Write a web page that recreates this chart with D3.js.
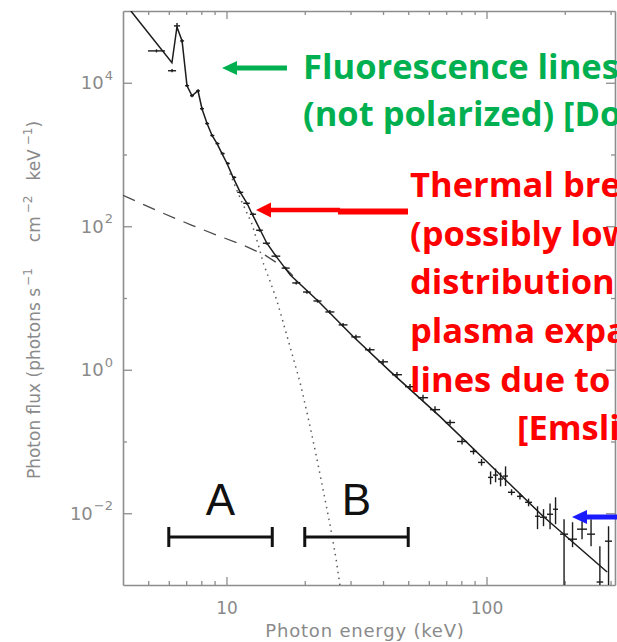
<!DOCTYPE html>
<html><head><meta charset="utf-8">
<script src="https://cdn.jsdelivr.net/npm/d3@7"></script>
<style>
html,body{margin:0;padding:0;background:#fff;overflow:hidden}
svg{display:block}
</style></head><body>
<svg id="chart" width="617" height="642"></svg>
<script>
// ---------- data ----------
// total model (solid)
const modelEnergy = [4.29,6.17,6.45,6.75,7.05,7.37,7.77,8.05,8.42,8.80,9.20,9.61,10.05,10.6,11.3,12.0,12.5,13.5,14.3,15.6,16.8,17.6,22.5,30.7,42.6,66.3,106,165,291];
const modelFlux   = [1.0e5,1.9e4,6.0e4,3.83e4,9090,6590,7740,4350,2700,1840,1420,1030,750,480,297,209,152,88,58,37.1,26.1,20.9,9.09,2.9,0.95,0.222,0.043,0.00908,0.00152];
// non-thermal broken power law (dashed)
const nonThermalEnergy = [4,5.70,7.37,9.20,11.6,14.07,16.8,19.2];
const nonThermalFlux   = [270,152,103,75,54.5,39.6,26.1,16.2];
// thermal component (dotted)
const thermalEnergy = [10.3,11.3,12.5,13.2,13.9,14.7,15.6,16.5,18.0,19.2,20.4,21.9,23.3,25.0,26.4,27.3];
const thermalFlux   = [545,245,110,58,29.6,17.2,9.38,4.64,1.52,0.659,0.253,0.0774,0.0253,0.00703,0.0023,0.001];
// observed spectrum: energy bins and flux with errors
const binLow   = [4.99,5.96,6.28,6.63,6.93,7.24,7.64,7.91,8.28,8.66,9.07,9.50,9.95,10.5,11.0,11.6,12.3,13.0,13.8,14.9,16.3,17.9,19.7,21.6,24.0,27.0,30.2,34.1,38.3,43.3,48.6,54.5,60.6,69.3,77.0,86.4,92.8,101.4,106.0,110.8,115.8,121.0,131.0,140.7,153.7,160.6,170.9,180.3,191.8,205.9,222.9,243.6,265,285.6];
const binHigh  = [5.80,6.40,6.63,6.87,7.18,7.50,7.91,8.19,8.58,8.98,9.40,9.84,10.3,10.9,11.6,12.3,13.0,13.8,14.7,16.1,17.5,19.2,21.1,23.2,26.0,29.2,32.8,37.1,41.8,47.3,53.1,59.6,66.3,75.7,84.2,91.9,98.7,106.0,110.8,115.8,121.0,128.8,138.0,149.7,160.6,170.9,180.3,188.4,205.9,222.9,243.6,261.5,281,304];
const flux     = [27800,14700,62000,38300,9100,6600,7700,4350,2700,1840,1420,1030,750,480,297,209,147,88,58,38.3,26.1,16.2,12.1,9.09,6.39,4.22,2.87,1.90,1.29,0.853,0.581,0.408,0.278,0.184,0.100,0.0726,0.0511,0.0316,0.0340,0.0300,0.0330,0.0196,0.0172,0.0142,0.00908,0.0088,0.00968,0.01137,0.00511,0.00435,0.0060,0.00511,0.00110,0.00408];
const fluxLow  = [26500,14000,56000,36000,8700,6300,7400,4150,2580,1760,1360,985,718,459,284,200,141,84,55.5,36.6,24.9,15.4,11.5,8.6,6.0,3.95,2.68,1.76,1.19,0.78,0.53,0.37,0.25,0.168,0.091,0.066,0.046,0.0253,0.0270,0.0237,0.0240,0.0178,0.0155,0.0125,0.0060,0.0066,0.0060,0.00703,0.0008,0.00337,0.00435,0.00348,0.0008,0.0008];
const fluxHigh = [29200,15500,68000,40500,9500,6900,8100,4550,2820,1920,1480,1075,783,501,310,218,154,92,60.5,40.0,27.3,17.0,12.7,9.6,6.8,4.5,3.07,2.04,1.40,0.93,0.635,0.45,0.31,0.201,0.110,0.080,0.057,0.0383,0.0420,0.0370,0.0450,0.0216,0.0190,0.0160,0.0125,0.0114,0.0137,0.0167,0.00826,0.0075,0.00774,0.00826,0.00348,0.00659];
// axis ticks
const xMajorTicks = [10,100];
const xMinorTicks = [5,6,7,8,9,20,30,40,50,60,70,80,90,200,300];
const yMajorTicks = [1e-2,1,1e2,1e4];
const yMinorTicks = [1e-1,10,1e3];
// energy ranges A and B
const bandLabels = ["A","B"];
const bandLow  = [6,20];
const bandHigh = [15,50];
// overlaid annotation text
const greenLines = ["Fluorescence lines","(not polarized) [Do"];
const redLines = ["Thermal bre","(possibly low","distribution","plasma expa","lines due to"];
const redLastLine = "[Emsli";

// ---------- layout ----------
const svg = d3.select("#chart");
const P = {left:123,right:615,top:11,bottom:585};
const x = d3.scaleLog().domain([4,312]).range([P.left,P.right]);
const y = d3.scaleLog().domain([1e-3,1e5]).range([P.bottom,P.top]);
const axisColor = "#8d8d8d";
const labelColor = "#8a8a8a";
const ink = "#1c1c1c";

svg.append("defs").append("clipPath").attr("id","plotclip")
  .append("rect").attr("x",P.left).attr("y",P.top).attr("width",P.right-P.left).attr("height",P.bottom-P.top);

function styleAxis(g, showDomain){
  g.attr("font-family","DejaVu Sans").attr("font-size",17);
  g.select(".domain").attr("stroke", showDomain?axisColor:"none").attr("stroke-width",1.6);
  g.selectAll(".tick line").attr("stroke",axisColor).attr("stroke-width",1.3);
  g.selectAll(".tick text").attr("fill",labelColor);
}

// bottom
svg.append("g").attr("transform",`translate(0,${P.bottom})`)
  .call(d3.axisBottom(x).tickValues(xMajorTicks).tickSizeInner(-8).tickSizeOuter(0).tickPadding(17).tickFormat(d=>String(d)))
  .call(g=>styleAxis(g,true));
svg.append("g").attr("transform",`translate(0,${P.bottom})`)
  .call(d3.axisBottom(x).tickValues(xMinorTicks).tickSizeInner(-4).tickSizeOuter(0).tickFormat(""))
  .call(g=>styleAxis(g,false));
// top
svg.append("g").attr("transform",`translate(0,${P.top})`)
  .call(d3.axisTop(x).tickValues(xMajorTicks).tickSizeInner(-8).tickSizeOuter(0).tickFormat(""))
  .call(g=>styleAxis(g,true));
svg.append("g").attr("transform",`translate(0,${P.top})`)
  .call(d3.axisTop(x).tickValues(xMinorTicks).tickSizeInner(-4).tickSizeOuter(0).tickFormat(""))
  .call(g=>styleAxis(g,false));
// left
const gl = svg.append("g").attr("transform",`translate(${P.left},0)`)
  .call(d3.axisLeft(y).tickValues(yMajorTicks).tickSizeInner(-9).tickSizeOuter(0).tickPadding(10).tickFormat(d=>String(d)))
  .call(g=>styleAxis(g,true));
gl.selectAll(".tick text").attr("font-size",18).each(function(d){
  const e = Math.round(Math.log10(d));
  const t = d3.select(this).text(null);
  t.append("tspan").text("10");
  t.append("tspan").attr("font-size",13).attr("dy","-0.7em").attr("dx",1).text(e<0?"\u2212"+(-e):String(e));
});
svg.append("g").attr("transform",`translate(${P.left},0)`)
  .call(d3.axisLeft(y).tickValues(yMinorTicks).tickSizeInner(-4).tickSizeOuter(0).tickFormat(""))
  .call(g=>styleAxis(g,false));
// right
svg.append("g").attr("transform",`translate(${P.right},0)`)
  .call(d3.axisRight(y).tickValues(yMajorTicks).tickSizeInner(-9).tickSizeOuter(0).tickFormat(""))
  .call(g=>styleAxis(g,true));
svg.append("g").attr("transform",`translate(${P.right},0)`)
  .call(d3.axisRight(y).tickValues(yMinorTicks).tickSizeInner(-4).tickSizeOuter(0).tickFormat(""))
  .call(g=>styleAxis(g,false));

// axis titles
svg.append("text").attr("x",365).attr("y",637).attr("text-anchor","middle")
  .attr("font-family","DejaVu Sans").attr("font-size",18).attr("letter-spacing",0.8)
  .attr("fill",labelColor).text("Photon energy (keV)");
const yt = svg.append("text").attr("transform","translate(40,300) rotate(-90)").attr("text-anchor","middle")
  .attr("font-family","DejaVu Sans").attr("font-size",17).attr("fill",labelColor);
yt.append("tspan").text("Photon flux (photons s");
yt.append("tspan").attr("font-size",12).attr("dx",2).attr("dy",-8).text("\u22121");
yt.append("tspan").attr("dx",26).attr("dy",8).text("cm");
yt.append("tspan").attr("font-size",12).attr("dx",3).attr("dy",-8).text("\u22122");
yt.append("tspan").attr("dx",15).attr("dy",8).text("keV");
yt.append("tspan").attr("font-size",12).attr("dx",4).attr("dy",-8).text("\u22121");
yt.append("tspan").attr("dy",8).text(")");

// ---------- marks ----------
const plot = svg.append("g").attr("clip-path","url(#plotclip)");
const line = d3.line().x(d=>x(d[0])).y(d=>y(d[1]));

plot.append("path").datum(d3.zip(nonThermalEnergy,nonThermalFlux)).attr("d",line)
  .attr("fill","none").attr("stroke","#4a4a4a").attr("stroke-width",1.3).attr("stroke-dasharray","13,9");
plot.append("path").datum(d3.zip(thermalEnergy,thermalFlux)).attr("d",line)
  .attr("fill","none").attr("stroke","#5a5a5a").attr("stroke-width",1.5).attr("stroke-dasharray","1.5,4.5");
plot.append("path").datum(d3.zip(modelEnergy,modelFlux)).attr("d",line)
  .attr("fill","none").attr("stroke",ink).attr("stroke-width",1.5);

const pts = flux.map((f,i)=>({lo:binLow[i],hi:binHigh[i],f,flo:fluxLow[i],fhi:fluxHigh[i]}));
const eb = plot.append("g").attr("stroke",ink).attr("stroke-width",1.4);
eb.selectAll("line.h").data(pts).join("line").attr("class","h")
  .attr("x1",d=>x(d.lo)).attr("x2",d=>x(d.hi)).attr("y1",d=>y(d.f)).attr("y2",d=>y(d.f));
eb.selectAll("line.v").data(pts).join("line").attr("class","v")
  .attr("x1",d=>x(Math.sqrt(d.lo*d.hi))).attr("x2",d=>x(Math.sqrt(d.lo*d.hi)))
  .attr("y1",d=>y(d.flo)).attr("y2",d=>y(d.fhi));

// ranges A and B
const bandY = 537;
const bands = bandLabels.map((l,i)=>({l,lo:bandLow[i],hi:bandHigh[i]}));
const bg = svg.append("g").attr("stroke","#111").attr("stroke-width",3);
bands.forEach(b=>{
  bg.append("line").attr("x1",x(b.lo)).attr("x2",x(b.hi)).attr("y1",bandY).attr("y2",bandY);
  bg.append("line").attr("x1",x(b.lo)).attr("x2",x(b.lo)).attr("y1",bandY-10).attr("y2",bandY+10);
  bg.append("line").attr("x1",x(b.hi)).attr("x2",x(b.hi)).attr("y1",bandY-10).attr("y2",bandY+10);
  svg.append("text").attr("x",x(Math.sqrt(b.lo*b.hi))).attr("y",515).attr("text-anchor","middle")
    .attr("font-family","Liberation Sans, Arial, sans-serif").attr("font-size",44).attr("fill","#111").text(b.l);
});

// ---------- annotations ----------
const green = "#00b050", red = "#ff0000", blue = "#1a1aff";
function arrow(tipX, tipY, backX, tailX, halfH, width, color){
  svg.append("line").attr("x1",backX-1).attr("x2",tailX).attr("y1",tipY).attr("y2",tipY)
    .attr("stroke",color).attr("stroke-width",width);
  svg.append("path").attr("d",`M${tipX},${tipY}L${backX},${tipY-halfH}L${backX},${tipY+halfH}Z`).attr("fill",color);
}
arrow(222,68,237,287,7,5,green);
arrow(256,210,271,340,7.5,4.5,red);
svg.append("line").attr("x1",338).attr("x2",408).attr("y1",211.5).attr("y2",211.5).attr("stroke",red).attr("stroke-width",6);
arrow(572,517,587,620,7,5,blue);

const ann = svg.append("g").attr("font-family","Open Sans, sans-serif").attr("font-weight",700).attr("font-size",34.5);
greenLines.forEach((t,i)=>ann.append("text").attr("x",303).attr("y",79+47*i).attr("fill",green).text(t));
redLines.forEach((t,i)=>ann.append("text").attr("x",410).attr("y",197+48.7*i).attr("fill",red).text(t));
ann.append("text").attr("x",517).attr("y",440).attr("fill",red).text(redLastLine);
</script>
</body></html>
